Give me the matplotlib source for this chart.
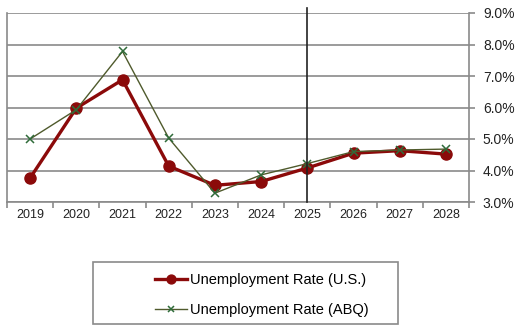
import numpy as np
import matplotlib.pyplot as plt
from matplotlib.patches import Rectangle

plt.rcParams["font.family"] = ["Liberation Sans", "DejaVu Sans"]

years = ["2019", "2020", "2021", "2022", "2023", "2024", "2025", "2026", "2027", "2028"]
us_rate = [3.76, 5.98, 6.88, 4.14, 3.53, 3.65, 4.08, 4.55, 4.63, 4.52]
abq_rate = [5.0, 5.93, 7.78, 5.03, 3.28, 3.86, 4.22, 4.6, 4.65, 4.68]
y_ticks = [3, 4, 5, 6, 7, 8, 9]
marker_year = "2025"

grey = "#8a8a8a"
x = np.arange(len(years))

fig = plt.figure(figsize=(5.18, 3.26), dpi=100)
ax = fig.add_axes([7 / 518, 1 - 202 / 326, 462 / 518, 189 / 326])

# horizontal gridlines
for v in y_ticks:
    ax.axhline(v, color=grey, lw=1.2, zorder=1)

ax.plot(x, us_rate, color="#8b0a0a", lw=2.4, marker="o", markersize=8,
        markerfacecolor="#8b0a0a", markeredgecolor="#8b0a0a",
        label="Unemployment Rate (U.S.)", zorder=3)
ax.plot(x, abq_rate, color="#4f5a2c", lw=1.0, marker="x", markersize=5.5,
        markeredgecolor="#2f6b3a", markeredgewidth=1.1,
        label="Unemployment Rate (ABQ)", zorder=4)

# vertical divider at the current year
xi = years.index(marker_year)
ax.plot([xi, xi], [3, 9.15], color="#222222", lw=1.2, clip_on=False, zorder=5)

ax.set_xlim(-0.5, len(years) - 0.5)
ax.set_ylim(3, 9)

ax.set_xticks(x)
ax.set_xticklabels(years, fontsize=9, color="#222222")
ax.set_xticks(np.arange(-0.5, len(years), 1.0), minor=True)
ax.tick_params(axis="x", which="major", length=0, pad=5)
ax.tick_params(axis="x", which="minor", length=4, color=grey, width=1.2)

ax.yaxis.tick_right()
ax.set_yticks(y_ticks)
ax.set_yticklabels([f"{v:.1f}%" for v in y_ticks], fontsize=10, color="#222222")
ax.tick_params(axis="y", length=4, color=grey, width=1.2, pad=6)

for s in ["left", "right", "bottom"]:
    ax.spines[s].set_color(grey)
    ax.spines[s].set_linewidth(1.2)
ax.spines["top"].set_visible(False)

# legend below the chart
fig.patches.append(Rectangle((93 / 518, 2 / 326), 305 / 518, 62 / 326,
                             transform=fig.transFigure, fill=False,
                             edgecolor=grey, lw=1.2))
fig.legend(loc="center", bbox_to_anchor=(262 / 518, 1 - 295 / 326),
           frameon=False, fontsize=10.5, handlelength=2.2, handletextpad=0.2,
           labelspacing=1.1, markerscale=0.8)

fig.savefig("out.png", dpi=100)
